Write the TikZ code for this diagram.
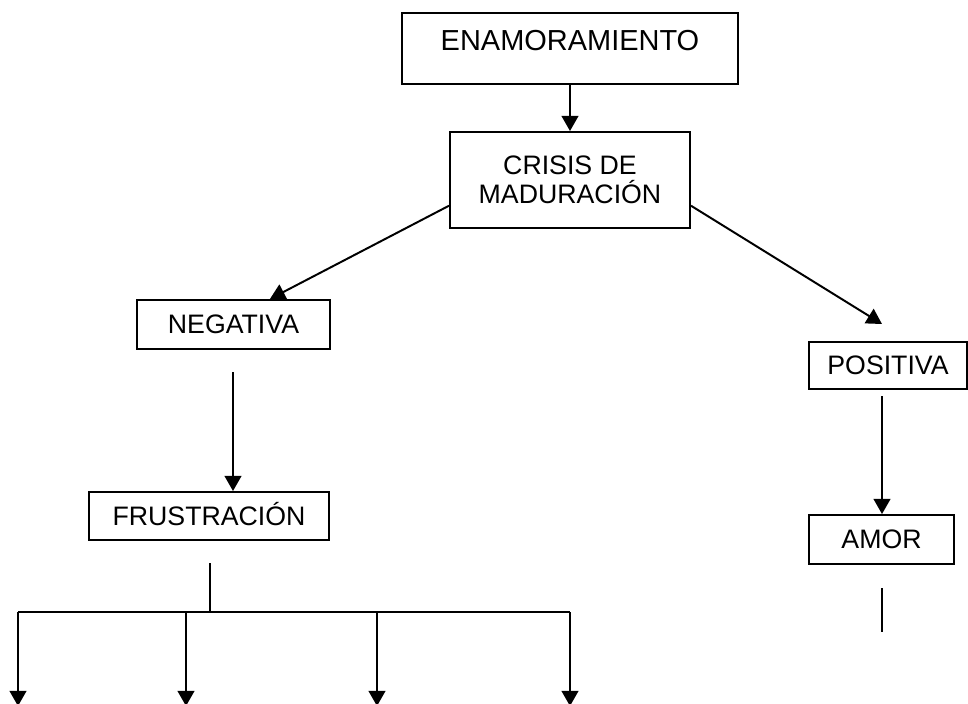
\documentclass[tikz,border=0pt]{standalone}
\usepackage{fontspec}
\setmainfont{Liberation Sans}
\usepackage{tikz}
\usetikzlibrary{arrows.meta}

\begin{document}
\begin{tikzpicture}[>={Triangle[width=0.42cm,length=0.38cm]}, line width=1.4pt,
  box/.style={draw, inner sep=0pt, font=\fontsize{19}{21}\selectfont}]
\useasboundingbox (0cm,0cm) rectangle (24.2cm,-17.575cm);

\draw (14.25cm,-0.3cm) node (11) [box, anchor=north, minimum width=8.4cm, text height=0.95cm, text depth=0.825cm, font=\fontsize{20.6}{24}\selectfont] {ENAMORAMIENTO};

\draw (14.25cm,-4.5cm) node (21) [box, minimum width=6cm, minimum height=2.4cm, align=center] {CRISIS DE\\MADURACIÓN};
\draw[->] (11) -- (21);

\draw (5.8375cm,-8.1125cm) node (31) [box, minimum width=4.825cm, minimum height=1.225cm] {NEGATIVA};
\draw (22.2cm,-9.1375cm) node (32) [box, minimum width=3.95cm, minimum height=1.175cm] {POSITIVA};
\coordinate (c1) at (22.05cm,-8.1cm);
\draw[->] (21.192) -- (31.35);
\draw[->] (21.348) -- (c1);

\draw (5.225cm,-12.9cm) node (41) [box, minimum width=6cm, minimum height=1.2cm, text height=0.48cm, text depth=0cm] {FRUSTRACIÓN};
\coordinate (n1) at (5.825cm,-9.3cm);
\draw[->] (n1) -- (n1 |- 41.north);

\draw (22.0375cm,-13.4875cm) node (42) [box, minimum width=3.625cm, minimum height=1.225cm] {AMOR};
\coordinate (p1) at (22.05cm,-9.9cm);
\draw[->] (p1) -- (p1 |- 42.north);
\coordinate (p2) at (22.05cm,-14.7cm);
\coordinate (p3) at (22.05cm,-15.8cm);
\draw (p2) -- (p3);

% ramas de frustracion
\coordinate (f1) at (5.25cm,-14.075cm);
\coordinate (f2) at (5.25cm,-15.3cm);
\coordinate (g1) at (0.45cm,-17.65cm);
\coordinate (g2) at (4.65cm,-17.65cm);
\coordinate (g3) at (9.425cm,-17.65cm);
\coordinate (g4) at (14.25cm,-17.65cm);
\draw (f1) -- (f2);
\draw (g1 |- f2) -- (g4 |- f2);
\draw[->] (g1 |- f2) -- (g1);
\draw[->] (g2 |- f2) -- (g2);
\draw[->] (g3 |- f2) -- (g3);
\draw[->] (g4 |- f2) -- (g4);
\end{tikzpicture}
\end{document}
